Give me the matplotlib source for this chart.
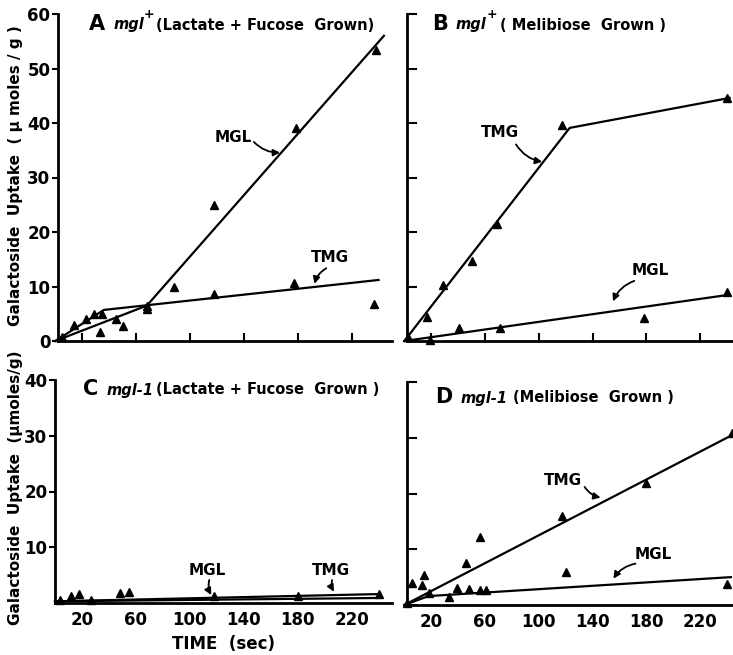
import matplotlib
matplotlib.use("Agg")
import matplotlib.pyplot as plt

W, H = 733, 655
fig = plt.figure(figsize=(W/100, H/100), dpi=100)

# ---------------- data ----------------
xticks = [20, 60, 100, 140, 180, 220]

# Panel A  mgl+ (Lactate + Fucose grown)
a_mgl_t = [5, 33, 45, 50, 68, 88, 118, 179, 238]
a_mgl_v = [0.7, 1.7, 4.0, 2.8, 5.8, 10.0, 25.0, 39.0, 53.4]
a_tmg_t = [14, 23, 29, 35, 68, 118, 177, 237]
a_tmg_v = [2.9, 4.0, 5.0, 5.0, 6.4, 8.6, 10.6, 6.8]
a_mgl_line_t = [0, 68, 244]
a_mgl_line_v = [0, 6.5, 56.0]
a_tmg_line_t = [0, 36, 240]
a_tmg_line_v = [0, 5.7, 11.2]

# Panel B  mgl+ (Melibiose grown)
b_tmg_t = [3, 17, 29, 50, 69, 117, 240]
b_tmg_v = [0.7, 4.4, 10.3, 14.7, 21.5, 39.6, 44.6]
b_mgl_t = [19, 41, 71, 178, 240]
b_mgl_v = [0.2, 2.3, 2.3, 4.2, 9.0]
b_tmg_line_t = [0, 123, 242]
b_tmg_line_v = [0, 39.1, 44.6]
b_mgl_line_t = [0, 242]
b_mgl_line_v = [0, 8.5]

# Panel C  mgl-1 (Lactate + Fucose grown)
c_pts_t = [4, 12, 18, 27, 48, 55, 118, 180, 240]
c_pts_v = [0.6, 1.25, 1.55, 0.6, 1.85, 2.0, 1.25, 1.25, 1.6]
c_mgl_line_t = [0, 240]
c_mgl_line_v = [0.3, 0.9]
c_tmg_line_t = [0, 240]
c_tmg_line_v = [0.3, 1.6]

# Panel D  mgl-1 (Melibiose grown)
d_tmg_t = [6, 13, 15, 46, 56, 117, 180, 244]
d_tmg_v = [4.0, 3.6, 5.3, 7.5, 12.2, 16.0, 21.8, 30.9]
d_mgl_t = [2, 18, 33, 39, 48, 56, 61, 120, 240]
d_mgl_v = [0.3, 2.1, 1.4, 3.1, 2.9, 2.7, 2.7, 6.0, 3.8]
d_tmg_line_t = [0, 244]
d_tmg_line_v = [0, 30.5]
d_mgl_line_t = [0, 18, 243]
d_mgl_line_v = [0, 1.6, 5.0]

FONT = "DejaVu Sans"
plt.rcParams['font.family'] = FONT


def make_ax(l, r, t, b, xlim, ylim):
    ax = fig.add_axes([l/W, 1 - b/H, (r - l)/W, (b - t)/H])
    ax.set_xlim(*xlim)
    ax.set_ylim(*ylim)
    for s in ['top', 'right']:
        ax.spines[s].set_visible(False)
    for s in ['left', 'bottom']:
        ax.spines[s].set_linewidth(2.0)
    ax.set_xticks(xticks)
    ax.tick_params(axis='x', direction='in', length=6, width=1.5)
    ax.tick_params(axis='y', direction='out', length=4, width=1.5, pad=1.5)
    ax.tick_params(labelsize=12)
    ax.patch.set_alpha(0)
    return ax


def draw(ax, t, v):
    ax.plot(t, v, '^', color='black', markersize=5.5, clip_on=False)


def line(ax, t, v):
    ax.plot(t, v, '-', color='black', lw=1.6, clip_on=False)


def note(ax, text, txy, start, end):
    ax.text(txy[0], txy[1], text, fontsize=11, fontweight='bold',
            ha='center', va='center')
    ax.annotate('', xy=end, xytext=start,
                arrowprops=dict(arrowstyle='-|>', color='black', lw=1.3,
                                mutation_scale=10,
                                connectionstyle='arc3,rad=0.25'))


# Panel A
axA = make_ax(58, 392, 14, 341, (2, 250), (0, 60))
axA.set_yticks([0, 10, 20, 30, 40, 50, 60])
axA.set_yticklabels(['0', '10', '20', '30', '40', '50', '60'], fontweight='bold')
axA.set_xticklabels([])
line(axA, a_mgl_line_t, a_mgl_line_v)
line(axA, a_tmg_line_t, a_tmg_line_v)
draw(axA, a_mgl_t, a_mgl_v)
draw(axA, a_tmg_t, a_tmg_v)
note(axA, 'MGL', (132, 37.4), (146, 36.9), (169, 34.6))
note(axA, 'TMG', (204, 15.4), (203, 13.6), (192, 10.0))

# Panel B
axB = make_ax(407, 733, 14, 341, (2, 244.5), (0, 60))
axB.set_yticks([0, 10, 20, 30, 40, 50, 60])
axB.set_yticklabels([])
axB.set_xticklabels([])
axB.tick_params(axis='y', direction='in', length=7)
line(axB, b_tmg_line_t, b_tmg_line_v)
line(axB, b_mgl_line_t, b_mgl_line_v)
draw(axB, b_tmg_t, b_tmg_v)
draw(axB, b_mgl_t, b_mgl_v)
note(axB, 'TMG', (71, 38.2), (82, 36.5), (104.6, 32.8))
note(axB, 'MGL', (183, 13.0), (173, 11.2), (154.5, 6.8))

# Panel C
axC = make_ax(55, 392, 380, 603, (0, 250), (0, 40))
axC.set_yticks([10, 20, 30, 40])
axC.set_yticklabels(['10', '20', '30', '40'], fontweight='bold')
axC.set_xticklabels([str(x) for x in xticks], fontweight='bold')
axC.tick_params(axis='x', length=0, pad=6)
line(axC, c_mgl_line_t, c_mgl_line_v)
line(axC, c_tmg_line_t, c_tmg_line_v)
draw(axC, c_pts_t, c_pts_v)
note(axC, 'MGL', (113, 5.9), (115, 4.6), (117, 1.0))
note(axC, 'TMG', (205, 5.9), (206, 4.6), (208, 1.6))
axC.set_xlabel('TIME  (sec)', fontsize=12, fontweight='bold', labelpad=4)

# Panel D
axD = make_ax(407, 733, 382, 605, (2, 244.5), (0, 40))
axD.set_yticks([0, 10, 20, 30, 40])
axD.set_yticklabels([])
axD.set_xticklabels([str(x) for x in xticks], fontweight='bold')
axD.tick_params(axis='x', length=0, pad=6)
axD.tick_params(axis='y', direction='in', length=7)
line(axD, d_tmg_line_t, d_tmg_line_v)
line(axD, d_mgl_line_t, d_mgl_line_v)
draw(axD, d_tmg_t, d_tmg_v)
draw(axD, d_mgl_t, d_mgl_v)
note(axD, 'TMG', (118, 22.4), (133, 21.6), (148, 19.2))
note(axD, 'MGL', (185, 9.1), (174, 7.5), (154.5, 4.3))

renderer = fig.canvas.get_renderer()


def chain(x0, y, parts):
    """parts: list of (text, fontsize, style, dy, gap_before)"""
    x = x0
    for s, fs, st, dy, gap in parts:
        x += gap
        t = fig.text(x/W, 1 - (y + dy)/H, s, va='center', ha='left',
                     fontsize=fs, fontweight='bold', style=st)
        bb = t.get_window_extent(renderer=renderer)
        x += bb.width


# Panel titles
chain(89, 24, [('A', 15, 'normal', 0, 0),
               ('mgl', 10.5, 'italic', 1, 8),
               ('+', 9, 'normal', -9, 0),
               ('(Lactate + Fucose  Grown)', 10.5, 'normal', 1, 1)])
chain(432, 24, [('B', 15, 'normal', 0, 0),
                ('mgl', 10.5, 'italic', 1, 8),
                ('+', 9, 'normal', -9, 0),
                ('( Melibiose  Grown )', 10.5, 'normal', 1, 3)])
chain(83, 389, [('C', 15, 'normal', 0, 0),
                ('mgl-1', 10.5, 'italic', 1, 8),
                ('(Lactate + Fucose  Grown )', 10.5, 'normal', 1, 3)])
chain(435, 397, [('D', 15, 'normal', 0, 0),
                 ('mgl-1', 10.5, 'italic', 1, 8),
                 ('(Melibiose  Grown )', 10.5, 'normal', 1, 6)])

# y axis labels
fig.text(16/W, 1 - 176/H, 'Galactoside  Uptake  ( \u03bc moles / g )',
         rotation=90, ha='center', va='center', fontsize=11, fontweight='bold')
fig.text(16/W, 1 - 488/H, 'Galactoside  Uptake  (\u03bcmoles/g)',
         rotation=90, ha='center', va='center', fontsize=11, fontweight='bold')

fig.savefig('out.png', dpi=100)
